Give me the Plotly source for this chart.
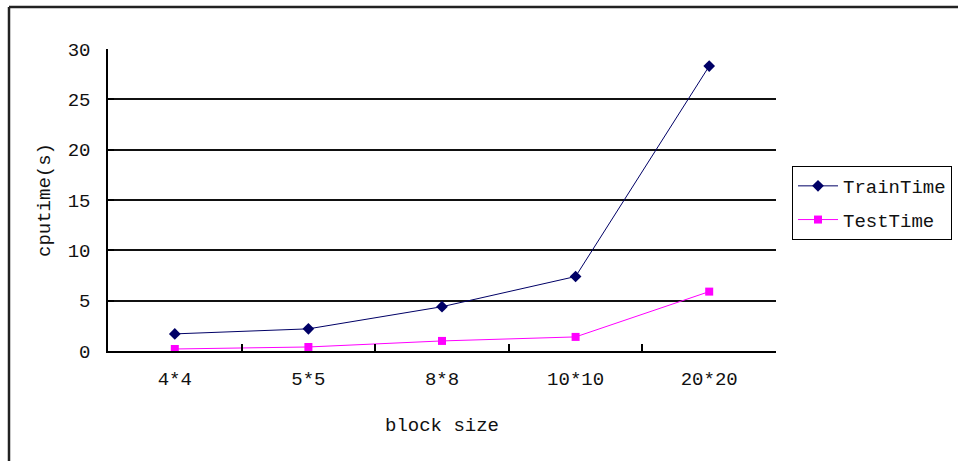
import plotly.graph_objects as go

categories = ["4*4", "5*5", "8*8", "10*10", "20*20"]
train_time = [1.7, 2.2, 4.4, 7.4, 28.3]
test_time = [0.2, 0.4, 1.0, 1.4, 5.9]
y_ticks = [0, 5, 10, 15, 20, 25, 30]
grid_ticks = [5, 10, 15, 20, 25]

W, H = 958, 461
L, R, T, B = 108, 182, 49, 110
pw, ph = W - L - R, H - T - B

FONT = "Liberation Mono"
FS = 19

fig = go.Figure()
fig.add_trace(go.Scatter(
    x=categories, y=train_time, name="TrainTime", mode="lines+markers",
    legendgroup="train",
    line=dict(color="#000066", width=1),
    marker=dict(symbol="diamond", size=9, color="#000066"),
))
fig.add_trace(go.Scatter(
    x=categories, y=test_time, name="TestTime", mode="lines+markers",
    legendgroup="test",
    line=dict(color="#FF00FF", width=1),
    marker=dict(symbol="square", size=8, color="#FF00FF"),
))
# invisible trace carrying the horizontal grid on an overlaid axis
fig.add_trace(go.Scatter(x=categories, y=[None] * 5, yaxis="y2",
                         showlegend=False, hoverinfo="skip"))

def px_x(p):
    return (p - L) / pw

def px_y(p):
    return (H - B - p) / ph

# outer chart frame (top and left edges)
frame = dict(type="line", xref="paper", yref="paper",
             line=dict(color="#222222", width=2.5), layer="above")
fig.add_shape(**frame, x0=px_x(9), x1=px_x(W + 5), y0=px_y(7), y1=px_y(7))
fig.add_shape(**frame, x0=px_x(9), x1=px_x(9), y0=px_y(7), y1=px_y(H + 5))

fig.update_layout(
    width=W, height=H,
    margin=dict(l=L, r=R, t=T, b=B, pad=0, autoexpand=False),
    paper_bgcolor="white", plot_bgcolor="white",
    font=dict(family=FONT, size=FS, color="#111111"),
    xaxis=dict(
        type="category", range=[-0.5, 4.5],
        showline=True, linecolor="black", linewidth=1.5,
        ticks="inside", tickson="boundaries", ticklen=7,
        tickcolor="black", tickwidth=1.5,
        showgrid=False, zeroline=False,
        ticklabelstandoff=9,
        title=dict(text="block size", standoff=28,
                   font=dict(family=FONT, size=FS)),
    ),
    yaxis=dict(
        range=[0, 30], tickvals=y_ticks,
        showline=True, linecolor="black", linewidth=1.5,
        ticks="inside", ticklen=6, tickcolor="black", tickwidth=1.5,
        showgrid=False, zeroline=False,
        ticklabelstandoff=12,
        title=dict(text="cputime(s)", standoff=12,
                   font=dict(family=FONT, size=FS)),
    ),
    yaxis2=dict(
        range=[0, 30], tickvals=grid_ticks, overlaying="y",
        showgrid=True, gridcolor="#111111", gridwidth=1.5,
        showticklabels=False, ticks="", zeroline=False, showline=False,
        layer="below traces",
    ),
    legend=dict(
        x=px_x(792), y=px_y(166), xanchor="left", yanchor="top",
        bordercolor="black", borderwidth=1, bgcolor="white",
        font=dict(family=FONT, size=FS), itemwidth=40,
        traceorder="grouped", tracegroupgap=6,
    ),
    showlegend=True,
)

fig.write_html("out.html")
